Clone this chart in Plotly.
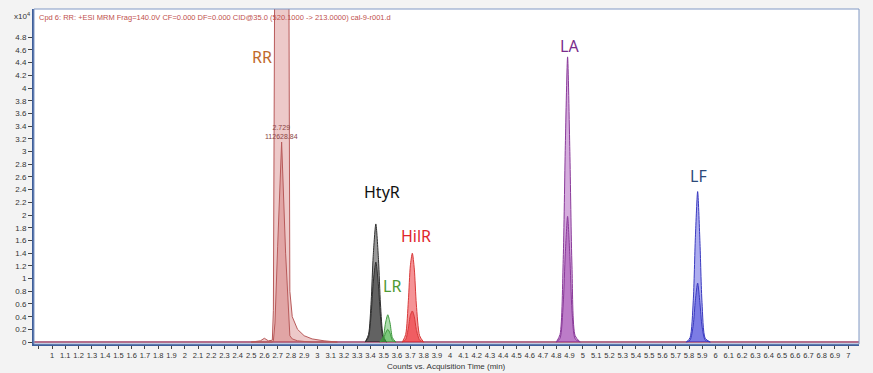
import plotly.graph_objects as go

# ---------------- data (intensities in x10^4 counts) ----------------
rr_time = [2.50, 2.57, 2.60, 2.63, 2.66, 2.668, 2.680, 2.70, 2.73, 2.76, 2.783, 2.792, 2.81, 2.85, 2.90, 2.96, 3.05, 3.15]
rr_high = [0, 0.02, 0.06, 0.02, 0.03, 0.5, 7, 30, 60, 30, 7, 0.8, 0.4, 0.2, 0.1, 0.05, 0.02, 0]
rr_low = [0, 0, 0, 0, 0, 0.02, 0.3, 1.5, 3.15, 1.4, 0.3, 0.1, 0.05, 0.02, 0.01, 0, 0, 0]

htyr_time = [3.36, 3.385, 3.405, 3.42, 3.44, 3.46, 3.475, 3.495, 3.52]
htyr_high = [0, 0.12, 0.65, 1.35, 1.86, 1.3, 0.6, 0.1, 0]
htyr_low = [0, 0.08, 0.45, 0.92, 1.26, 0.88, 0.4, 0.06, 0]

lr_time = [3.47, 3.495, 3.513, 3.53, 3.547, 3.565, 3.59]
lr_high = [0, 0.08, 0.3, 0.43, 0.3, 0.07, 0]
lr_low = [0, 0.04, 0.14, 0.2, 0.14, 0.03, 0]

hilr_time = [3.64, 3.665, 3.685, 3.70, 3.715, 3.73, 3.745, 3.77, 3.80]
hilr_high = [0, 0.12, 0.65, 1.2, 1.40, 1.15, 0.6, 0.1, 0]
hilr_low = [0, 0.04, 0.22, 0.42, 0.49, 0.4, 0.2, 0.03, 0]

la_time = [4.80, 4.828, 4.852, 4.868, 4.885, 4.902, 4.918, 4.942, 4.98]
la_high = [0, 0.12, 1.3, 3.1, 4.49, 3.0, 1.2, 0.1, 0]
la_low = [0, 0.06, 0.6, 1.4, 1.98, 1.35, 0.5, 0.05, 0]

lf_time = [5.78, 5.808, 5.832, 5.848, 5.865, 5.882, 5.898, 5.922, 5.96]
lf_high = [0, 0.07, 0.65, 1.65, 2.37, 1.6, 0.62, 0.06, 0]
lf_low = [0, 0.03, 0.27, 0.66, 0.93, 0.62, 0.25, 0.03, 0]

peak_names = ["RR", "HtyR", "LR", "HilR", "LA", "LF"]
rr_apex_time = 2.729
rr_apex_value = "112628.84"

x_tick_vals = [round(0.9 + 0.1 * i, 1) for i in range(62)]
x_tick_text = [""] + [("%g" % v) for v in x_tick_vals[1:]]
y_tick_vals = [round(0.2 * i, 1) for i in range(25)]
y_tick_text = [("%g" % v) for v in y_tick_vals]

# ---------------- styles ----------------
styles = {
    "RR":   dict(line="#b85a5a", fill="rgba(200,90,90,0.33)", label="#c0692a", spline=False),
    "HtyR": dict(line="#303030", fill="rgba(30,30,30,0.45)", label="#111111", spline=True),
    "LR":   dict(line="#3f9a3f", fill="rgba(50,170,50,0.40)", label="#4f9a35", spline=True),
    "HilR": dict(line="#d83a3a", fill="rgba(235,40,45,0.50)", label="#e0262c", spline=True),
    "LA":   dict(line="#8a3a9a", fill="rgba(150,50,170,0.40)", label="#7a2d8c", spline=True),
    "LF":   dict(line="#3a3ac0", fill="rgba(50,50,215,0.40)", label="#2d4a7a", spline=True),
}
label_pos = {
    "RR": (2.58, 4.49), "HtyR": (3.49, 2.36), "LR": (3.56, 0.88),
    "HilR": (3.74, 1.67), "LA": (4.90, 4.66), "LF": (5.87, 2.61),
}

series = {
    "RR": (rr_time, rr_high, rr_low),
    "HtyR": (htyr_time, htyr_high, htyr_low),
    "LR": (lr_time, lr_high, lr_low),
    "HilR": (hilr_time, hilr_high, hilr_low),
    "LA": (la_time, la_high, la_low),
    "LF": (lf_time, lf_high, lf_low),
}

fig = go.Figure()
for name in peak_names:
    t, hi, lo = series[name]
    st = styles[name]
    shape = "spline" if st["spline"] else "linear"
    for ys in (hi, lo):
        fig.add_trace(go.Scatter(
            x=t, y=ys, mode="lines", fill="tozeroy", fillcolor=st["fill"],
            line=dict(color=st["line"], width=1, shape=shape, smoothing=0.7),
            showlegend=False, hoverinfo="skip"))

for name in peak_names:
    x, y = label_pos[name]
    fig.add_annotation(x=x, y=y, text=name, showarrow=False,
                       font=dict(family="Noto Sans", size=16, color=styles[name]["label"]),
                       xanchor="center", yanchor="middle")

fig.add_annotation(x=rr_apex_time, y=3.31, text="%.3f<br>%s" % (rr_apex_time, rr_apex_value),
                   showarrow=False, font=dict(family="Liberation Sans", size=7, color="#8a4545"),
                   xanchor="center", yanchor="middle")

fig.add_annotation(xref="paper", yref="paper", x=-0.003, y=0.978, text="x10<sup>4</sup>",
                   showarrow=False, xanchor="right", yanchor="middle",
                   font=dict(family="Liberation Sans", size=8, color="#333333"))
fig.add_annotation(xref="paper", yref="paper", x=0.004, y=0.976,
                   text="Cpd 6: RR: +ESI MRM Frag=140.0V CF=0.000 DF=0.000 CID@35.0 (520.1000 -> 213.0000) cal-9-r001.d",
                   showarrow=False, xanchor="left", yanchor="middle",
                   font=dict(family="Liberation Sans", size=7.5, color="#c0504d"))
fig.add_annotation(xref="paper", yref="paper", x=0.5, y=-0.066,
                   text="Counts vs. Acquisition Time (min)", showarrow=False,
                   xanchor="center", yanchor="middle",
                   font=dict(family="Liberation Sans", size=8, color="#333333"))

fig.add_shape(type="rect", xref="paper", yref="paper", x0=0, y0=0, x1=1, y1=1,
              line=dict(color="#8098c4", width=1), layer="above")

fig.update_layout(
    width=873, height=373,
    margin=dict(l=34, r=14, t=9, b=29, autoexpand=False),
    paper_bgcolor="#f3f3f3", plot_bgcolor="#ffffff",
    showlegend=False,
)
fig.update_xaxes(
    range=[0.864, 7.081], tickmode="array", tickvals=x_tick_vals, ticktext=x_tick_text,
    ticks="outside", ticklen=3, tickcolor="#444444", tickwidth=1, tickangle=0,
    automargin=False,
    tickfont=dict(family="Liberation Sans", size=7.5, color="#333333"),
    showgrid=False, zeroline=False, showline=True, linecolor="#3f5f9a", linewidth=2,
)
fig.update_yaxes(
    range=[-0.03, 5.244], tickmode="array", tickvals=y_tick_vals, ticktext=y_tick_text,
    ticks="outside", ticklen=4, tickcolor="#444444", tickwidth=1,
    automargin=False,
    tickfont=dict(family="Liberation Sans", size=8, color="#333333"),
    showgrid=False, zeroline=True, zerolinecolor="#b4708c", zerolinewidth=1.5,
    showline=True, linecolor="#3f5f9a", linewidth=2,
)

fig.write_html("out.html", config={"displayModeBar": False},
               post_script="document.body.style.margin='0';document.body.style.overflow='hidden';")
